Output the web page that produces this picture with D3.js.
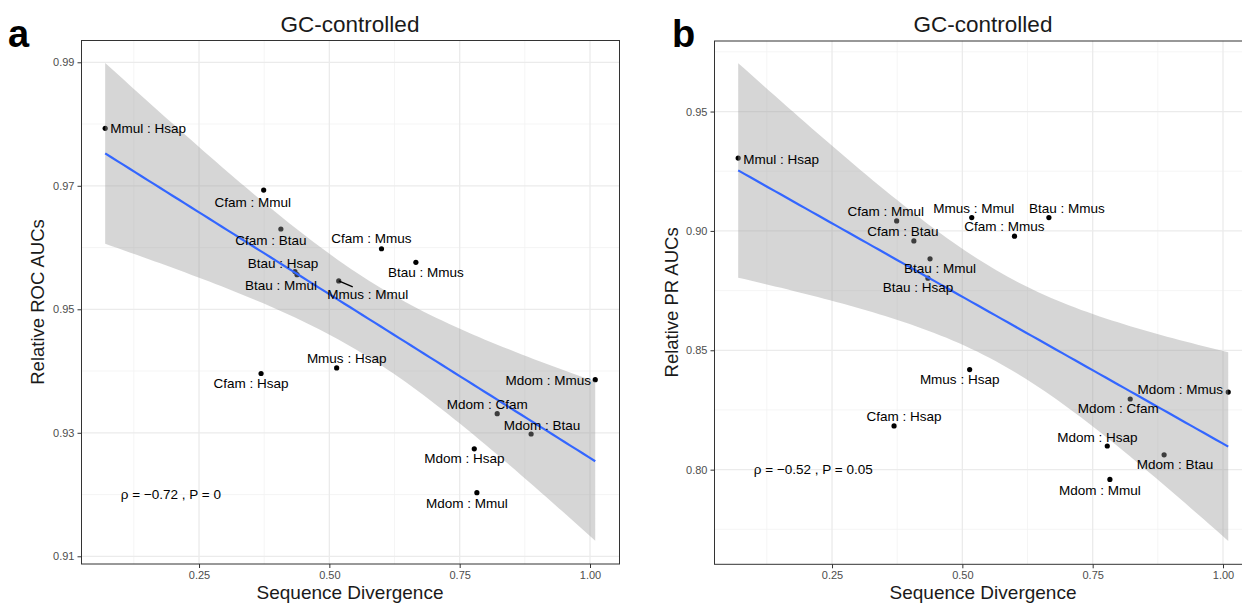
<!DOCTYPE html>
<html>
<head>
<meta charset="utf-8">
<script src="https://cdn.jsdelivr.net/npm/d3@7"></script>
<style>
  html, body { margin: 0; padding: 0; background: #fff; }
  svg { display: block; font-family: "Liberation Sans", Arial, Helvetica, sans-serif; }
</style>
</head>
<body>
<svg id="chart" width="1242" height="603"></svg>
<script>
// Species pairs and their sequence divergence (shared by both panels)
const pairs = ["Mmul : Hsap", "Cfam : Mmul", "Cfam : Btau", "Btau : Hsap", "Btau : Mmul",
  "Mmus : Mmul", "Cfam : Mmus", "Btau : Mmus", "Cfam : Hsap", "Mmus : Hsap",
  "Mdom : Mmus", "Mdom : Cfam", "Mdom : Btau", "Mdom : Hsap", "Mdom : Mmul"];
const divergence = [0.070, 0.374, 0.407, 0.434, 0.438, 0.518, 0.600, 0.666, 0.369, 0.514,
  1.010, 0.822, 0.887, 0.778, 0.783];

// Relative AUCs per pair
const rocAuc = [0.9793, 0.9693, 0.9630, 0.9561, 0.9556, 0.9546, 0.9598, 0.9576, 0.9396, 0.9405,
  0.9386, 0.9331, 0.9298, 0.9274, 0.9203];
const prAuc = [0.9305, 0.9042, 0.8958, 0.8802, 0.8883, 0.9056, 0.8978, 0.9056, 0.8183, 0.8419,
  0.8325, 0.8296, 0.8062, 0.8099, 0.7959];

// Axis ticks
const xTicks = [0.25, 0.50, 0.75, 1.00];
const xMinor = [0.125, 0.375, 0.625, 0.875];
const rocTicks = [0.91, 0.93, 0.95, 0.97, 0.99];
const rocMinor = [0.92, 0.94, 0.96, 0.98];
const prTicks = [0.80, 0.85, 0.90, 0.95];
const prMinor = [0.775, 0.825, 0.875, 0.925, 0.975];

// Correlation annotations
const rocStat = "ρ = −0.72 , P = 0";
const prStat = "ρ = −0.52 , P = 0.05";

// Repelled label placement (pixel offsets of label centre from its point)
const rocLabelOffsets = [[43, 0], [-11, 12], [-10, 11], [-12, -8], [-16, 11], [29, 14], [-10, -10],
  [10, 10], [-10, 10], [10, -9], [-47, 1], [-10, -9], [11, -9], [-10, 10], [-10, 11]];
const prLabelOffsets = [[43, 1], [-11, -9], [-11, -9], [-10, 9], [10, 10], [2, -9], [-10, -10],
  [18, -9], [10, -9], [-10, 10], [-48, -3], [-12, 10], [11, 10], [-10, -9], [-10, 11]];

const svg = d3.select("#chart");

// Ordinary least squares fit with a 95% confidence band (as geom_smooth(method = "lm"))
function lmFit(xs, ys) {
  const n = xs.length;
  const mx = d3.mean(xs), my = d3.mean(ys);
  let sxx = 0, sxy = 0;
  xs.forEach((x, i) => { sxx += (x - mx) ** 2; sxy += (x - mx) * (ys[i] - my); });
  const slope = sxy / sxx, intercept = my - slope * mx;
  let sse = 0;
  xs.forEach((x, i) => { sse += (ys[i] - (intercept + slope * x)) ** 2; });
  const s = Math.sqrt(sse / (n - 2));
  const tq = 2.160369; // t(0.975, df = 13)
  const [x0, x1] = d3.extent(xs);
  const grid = d3.range(0, 81).map(k => x0 + (x1 - x0) * k / 80);
  return grid.map(x => {
    const fit = intercept + slope * x;
    const se = s * Math.sqrt(1 / n + (x - mx) ** 2 / sxx);
    return { x, fit, lo: fit - tq * se, hi: fit + tq * se };
  });
}

function panel(opts) {
  const { left, top, width, height, yDomain, yTicks, yMinor, ys, offsets, yTitle, letter, stat, statY, segment } = opts;
  const x = d3.scaleLinear().domain([0.0236, 1.0556]).range([left, left + width]);
  const y = d3.scaleLinear().domain(yDomain).range([top + height, top]);
  const g = svg.append("g");

  const clipId = "clip-" + letter;
  svg.append("clipPath").attr("id", clipId)
    .append("rect").attr("x", left).attr("y", top).attr("width", width).attr("height", height);

  // grid
  const grid = g.append("g").attr("clip-path", `url(#${clipId})`);
  grid.selectAll(".ym").data(yMinor).join("line")
    .attr("x1", left).attr("x2", left + width).attr("y1", d => y(d)).attr("y2", d => y(d))
    .attr("stroke", "#f2f2f2").attr("stroke-width", 0.8);
  grid.selectAll(".xm").data(xMinor).join("line")
    .attr("y1", top).attr("y2", top + height).attr("x1", d => x(d)).attr("x2", d => x(d))
    .attr("stroke", "#f2f2f2").attr("stroke-width", 0.8);
  grid.selectAll(".yM").data(yTicks).join("line")
    .attr("x1", left).attr("x2", left + width).attr("y1", d => y(d)).attr("y2", d => y(d))
    .attr("stroke", "#ebebeb").attr("stroke-width", 1.3);
  grid.selectAll(".xM").data(xTicks).join("line")
    .attr("y1", top).attr("y2", top + height).attr("x1", d => x(d)).attr("x2", d => x(d))
    .attr("stroke", "#ebebeb").attr("stroke-width", 1.3);

  const data = pairs.map((p, i) => ({ p, x: divergence[i], y: ys[i], off: offsets[i] }));

  // points (drawn beneath the ribbon)
  g.append("g").selectAll("circle").data(data).join("circle")
    .attr("cx", d => x(d.x)).attr("cy", d => y(d.y)).attr("r", 2.6).attr("fill", "#000");

  // regression ribbon and line
  const fit = lmFit(divergence, ys);
  const cg = g.append("g").attr("clip-path", `url(#${clipId})`);
  cg.append("path").datum(fit)
    .attr("d", d3.area().x(d => x(d.x)).y0(d => y(d.lo)).y1(d => y(d.hi)))
    .attr("fill", "#999999").attr("fill-opacity", 0.4);
  cg.append("path").datum(fit)
    .attr("d", d3.line().x(d => x(d.x)).y(d => y(d.fit)))
    .attr("fill", "none").attr("stroke", "#3366FF").attr("stroke-width", 2.2);

  // connector segment for displaced labels
  if (segment) {
    const d = data[segment.index];
    g.append("line")
      .attr("x1", x(d.x)).attr("y1", y(d.y))
      .attr("x2", x(d.x) + segment.dx).attr("y2", y(d.y) + segment.dy)
      .attr("stroke", "#000").attr("stroke-width", 1.2);
  }

  // labels
  g.append("g").selectAll("text").data(data).join("text")
    .attr("x", d => x(d.x) + d.off[0]).attr("y", d => y(d.y) + d.off[1])
    .attr("text-anchor", "middle").attr("dominant-baseline", "central")
    .attr("font-size", 13.5).attr("fill", "#000").text(d => d.p);

  // correlation annotation
  g.append("text").attr("x", x(0.1)).attr("y", y(statY))
    .attr("dominant-baseline", "central").attr("font-size", 13.5).attr("fill", "#000")
    .text(stat);

  // panel border
  g.append("rect").attr("x", left + 0.5).attr("y", top + 0.5).attr("width", width).attr("height", height - 0.5)
    .attr("fill", "none").attr("stroke", "#333").attr("stroke-width", 1);

  // axes
  const yAxis = g.append("g").attr("transform", `translate(${left + 0.5},0)`)
    .call(d3.axisLeft(y).tickValues(yTicks).tickFormat(d3.format(".2f")).tickSize(4).tickPadding(3));
  const xAxis = g.append("g").attr("transform", `translate(0,${top + height})`)
    .call(d3.axisBottom(x).tickValues(xTicks).tickFormat(d3.format(".2f")).tickSize(4).tickPadding(3));
  [yAxis, xAxis].forEach(ax => {
    ax.select(".domain").remove();
    ax.selectAll(".tick line").attr("stroke", "#333");
    ax.selectAll(".tick text").attr("fill", "#4d4d4d").attr("font-size", 11)
      .attr("font-family", "Liberation Sans, Arial, sans-serif");
  });

  // titles
  const cx = (x.range()[0] + x.range()[1]) / 2;
  svg.append("text").attr("x", cx).attr("y", 32)
    .attr("text-anchor", "middle").attr("font-size", 22.5).attr("fill", "#1a1a1a").text("GC-controlled");
  svg.append("text").attr("x", cx).attr("y", 599)
    .attr("text-anchor", "middle").attr("font-size", 19).attr("fill", "#1a1a1a").text("Sequence Divergence");
  svg.append("text")
    .attr("transform", `translate(${opts.yTitleX},${top + height / 2}) rotate(-90)`)
    .attr("text-anchor", "middle").attr("font-size", 18.5).attr("fill", "#1a1a1a").text(yTitle);
  svg.append("text").attr("x", opts.letterX).attr("y", 47)
    .attr("font-size", 38).attr("font-weight", "bold").attr("fill", "#000").text(letter);
}

panel({
  left: 81, top: 40, width: 538, height: 524,
  yDomain: [0.90875, 0.99361], yTicks: rocTicks, yMinor: rocMinor,
  ys: rocAuc, offsets: rocLabelOffsets, yTitle: "Relative ROC AUCs", yTitleX: 44,
  letter: "a", letterX: 8, stat: rocStat, statY: 0.92,
  segment: { index: 5, dx: 14, dy: 6 }
});

panel({
  left: 714, top: 40.5, width: 538, height: 523.8,
  yDomain: [0.76035, 0.97976], yTicks: prTicks, yMinor: prMinor,
  ys: prAuc, offsets: prLabelOffsets, yTitle: "Relative PR AUCs", yTitleX: 678,
  letter: "b", letterX: 672, stat: prStat, statY: 0.80,
  segment: null
});
</script>
</body>
</html>
